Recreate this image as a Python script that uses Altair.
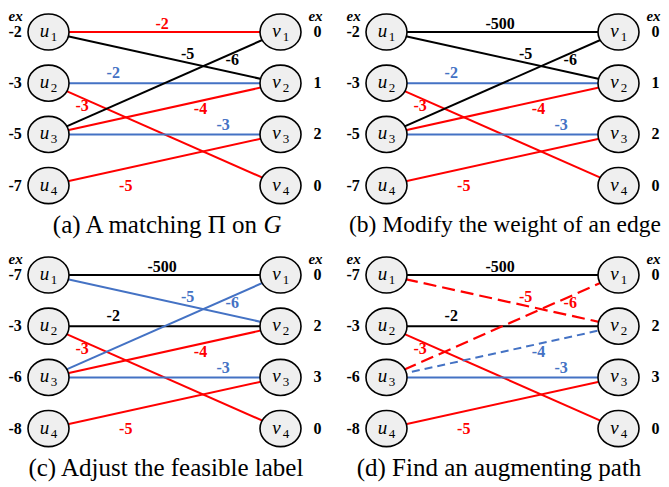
import altair as alt
import pandas as pd

# ---------------- data ----------------
panel_ids = ["a", "b", "c", "d"]
captions = {
    "a": "(a) A matching Π on",
    "b": "(b) Modify the weight of an edge",
    "c": "(c) Adjust the feasible label",
    "d": "(d) Find an augmenting path",
}
caption_tail = {"a": "G"}   # italic symbol ending caption (a)
ex_u = {"a": [-2, -3, -5, -7], "b": [-2, -3, -5, -7],
        "c": [-7, -3, -6, -8], "d": [-7, -3, -6, -8]}
ex_v = {"a": [0, 1, 2, 0], "b": [0, 1, 2, 0],
        "c": [0, 2, 3, 0], "d": [0, 2, 3, 0]}

edge_u = [1, 1, 2, 2, 3, 3, 3, 4]
edge_v = [1, 2, 2, 4, 1, 2, 3, 3]
edge_w = {
    "a": [-2, -5, -2, -3, -6, -4, -3, -5],
    "b": [-500, -5, -2, -3, -6, -4, -3, -5],
    "c": [-500, -5, -2, -3, -6, -4, -3, -5],
    "d": [-500, -5, -2, -3, -6, -4, -3, -5],
}
# edge state: tight (red), matched (blue), other (black)
edge_state = {
    "a": ["tight", "other", "matched", "tight", "other", "tight", "matched", "tight"],
    "b": ["other", "other", "matched", "tight", "other", "tight", "matched", "tight"],
    "c": ["other", "matched", "other", "tight", "matched", "tight", "matched", "tight"],
    "d": ["other", "tight", "other", "tight", "tight", "matched", "matched", "tight"],
}
on_path = {
    "a": [0, 0, 0, 0, 0, 0, 0, 0],
    "b": [0, 0, 0, 0, 0, 0, 0, 0],
    "c": [0, 0, 0, 0, 0, 0, 0, 0],
    "d": [0, 1, 0, 0, 1, 1, 0, 0],
}

# ---------------- layout (column / row units) ----------------
PANEL_W, PANEL_H = 315, 232
U_COL, V_COL = 0.0, 1.0
X_DOMAIN = [-0.17457, 1.18319]
Y_DOMAIN = [0.53125, 5.0625]
LEFT_EX_COL = -0.1724
RIGHT_EX_COL = 1.1595
RIGHT_HDR_COL = 1.151
HEADER_ROW = 0.6875
CAPTION_COL = {"a": 0.8987, "b": 0.5108, "c": 0.506, "d": 0.485}
CAPTION_SIZE = {"a": 25, "b": 23.5, "c": 25, "d": 25}
CAPTION_TAIL_COL = {"a": 0.9263}
CAPTION_ROW = 4.779
LABEL_COL = [0.49, 0.60, 0.279, 0.145, 0.792, 0.655, 0.753, 0.333]
LABEL_ROW = [0.835, 1.43, 1.80, 2.44, 1.55, 2.505, 2.82, 4.01]

RED, BLUE, BLACK = "#ff0000", "#4472c4", "#000000"
SERIF = "Liberation Serif"

rows = []
for p in panel_ids:
    for i in range(4):
        rows.append(dict(panel=p, kind="node", x=U_COL, y=i + 1, letter="u", sub=str(i + 1)))
        rows.append(dict(panel=p, kind="node", x=V_COL, y=i + 1, letter="v", sub=str(i + 1)))
        rows.append(dict(panel=p, kind="exl", x=LEFT_EX_COL, y=i + 1, text=str(ex_u[p][i])))
        rows.append(dict(panel=p, kind="exr", x=RIGHT_EX_COL, y=i + 1, text=str(ex_v[p][i])))
    rows.append(dict(panel=p, kind="hdl", x=LEFT_EX_COL, y=HEADER_ROW, text="ex"))
    rows.append(dict(panel=p, kind="hdr", x=RIGHT_HDR_COL, y=HEADER_ROW, text="ex"))
    if p in caption_tail:
        rows.append(dict(panel=p, kind="capR", x=CAPTION_COL[p], y=CAPTION_ROW, text=captions[p]))
        rows.append(dict(panel=p, kind="capT", x=CAPTION_TAIL_COL[p], y=CAPTION_ROW,
                         text=caption_tail[p]))
    else:
        rows.append(dict(panel=p, kind="cap", x=CAPTION_COL[p], y=CAPTION_ROW, text=captions[p]))
    for k in range(8):
        rows.append(dict(panel=p, kind="edge", x=U_COL, y=edge_u[k], x2=V_COL, y2=edge_v[k],
                         state=edge_state[p][k], dash=on_path[p][k]))
        rows.append(dict(panel=p, kind="elab", x=LABEL_COL[k], y=LABEL_ROW[k],
                         text=str(edge_w[p][k]), state=edge_state[p][k]))
df = pd.DataFrame(rows)

XS = alt.Scale(domain=X_DOMAIN, nice=False, zero=False)
YS = alt.Scale(domain=Y_DOMAIN, reverse=True, nice=False, zero=False)
X = alt.X("x:Q", scale=XS, axis=None)
Y = alt.Y("y:Q", scale=YS, axis=None)
COLOR = alt.Color("state:N", scale=alt.Scale(domain=["tight", "matched", "other"],
                                              range=[RED, BLUE, BLACK]), legend=None)
ELLIPSE = "M-1,0A1,0.88,0,1,1,1,0A1,0.88,0,1,1,-1,0Z"


def make_panel(p):
    base = alt.Chart()
    f = lambda cond: f"datum.panel == '{p}' && " + cond
    cs = CAPTION_SIZE[p]

    edges_solid = base.mark_rule(strokeWidth=2, clip=True).encode(
        x=X, y=Y, x2="x2:Q", y2="y2:Q", color=COLOR
    ).transform_filter(f("datum.kind == 'edge' && datum.dash == 0"))

    edges_dash_red = base.mark_rule(strokeWidth=2.2, strokeDash=[13, 6], clip=True).encode(
        x=X, y=Y, x2="x2:Q", y2="y2:Q", color=COLOR
    ).transform_filter(f("datum.kind == 'edge' && datum.dash == 1 && datum.state == 'tight'"))

    edges_dash_blue = base.mark_rule(strokeWidth=2, strokeDash=[8, 5], clip=True).encode(
        x=X, y=Y, x2="x2:Q", y2="y2:Q", color=COLOR
    ).transform_filter(f("datum.kind == 'edge' && datum.dash == 1 && datum.state == 'matched'"))

    nodes = base.mark_point(shape=ELLIPSE, size=1681, fill="#efefef", fillOpacity=1,
                            stroke="black", strokeWidth=1.6, opacity=1, clip=True).encode(
        x=X, y=Y
    ).transform_filter(f("datum.kind == 'node'"))

    node_letter = base.mark_text(font=SERIF, fontStyle="italic", fontSize=19, dx=-4, dy=5,
                                 baseline="alphabetic", align="center", color="black",
                                 clip=True).encode(
        x=X, y=Y, text="letter:N"
    ).transform_filter(f("datum.kind == 'node'"))

    node_sub = base.mark_text(font=SERIF, fontSize=13, dx=5.5, dy=9,
                              baseline="alphabetic", align="center", color="black",
                              clip=True).encode(
        x=X, y=Y, text="sub:N"
    ).transform_filter(f("datum.kind == 'node'"))

    ex_left = base.mark_text(font=SERIF, fontWeight="bold", fontSize=16, align="left",
                             baseline="middle", color="black", clip=True).encode(
        x=X, y=Y, text="text:N"
    ).transform_filter(f("datum.kind == 'exl'"))

    ex_right = base.mark_text(font=SERIF, fontWeight="bold", fontSize=16, align="center",
                              baseline="middle", color="black", clip=True).encode(
        x=X, y=Y, text="text:N"
    ).transform_filter(f("datum.kind == 'exr'"))

    hdr_left = base.mark_text(font=SERIF, fontWeight="bold", fontStyle="italic", fontSize=15,
                              align="left", baseline="middle", color="black", clip=True).encode(
        x=X, y=Y, text="text:N"
    ).transform_filter(f("datum.kind == 'hdl'"))

    hdr_right = base.mark_text(font=SERIF, fontWeight="bold", fontStyle="italic", fontSize=15,
                               align="center", baseline="middle", color="black", clip=True).encode(
        x=X, y=Y, text="text:N"
    ).transform_filter(f("datum.kind == 'hdr'"))

    edge_labels = base.mark_text(font=SERIF, fontWeight="bold", fontSize=16, align="center",
                                 baseline="middle", clip=True).encode(
        x=X, y=Y, text="text:N", color=COLOR
    ).transform_filter(f("datum.kind == 'elab'"))

    caption = base.mark_text(font=SERIF, fontSize=cs, align="center", baseline="middle",
                             color="black", clip=True).encode(
        x=X, y=Y, text="text:N"
    ).transform_filter(f("datum.kind == 'cap'"))

    caption_r = base.mark_text(font=SERIF, fontSize=cs, align="right", baseline="middle",
                               color="black", clip=True).encode(
        x=X, y=Y, text="text:N"
    ).transform_filter(f("datum.kind == 'capR'"))

    caption_t = base.mark_text(font=SERIF, fontSize=cs, fontStyle="italic", align="left",
                               baseline="middle", color="black", clip=True).encode(
        x=X, y=Y, text="text:N"
    ).transform_filter(f("datum.kind == 'capT'"))

    return alt.layer(
        edges_solid, edges_dash_red, edges_dash_blue, nodes, node_letter, node_sub,
        ex_left, ex_right, hdr_left, hdr_right, edge_labels, caption, caption_r, caption_t
    ).properties(width=PANEL_W, height=PANEL_H)


top = alt.hconcat(make_panel("a"), make_panel("b"), spacing=23)
bottom = alt.hconcat(make_panel("c"), make_panel("d"), spacing=23)

chart = alt.vconcat(top, bottom, spacing=11, data=df).properties(
    padding=0, background="white"
).configure_view(stroke=None)

chart.save("out.html", embed_options={"renderer": "svg", "actions": False})
